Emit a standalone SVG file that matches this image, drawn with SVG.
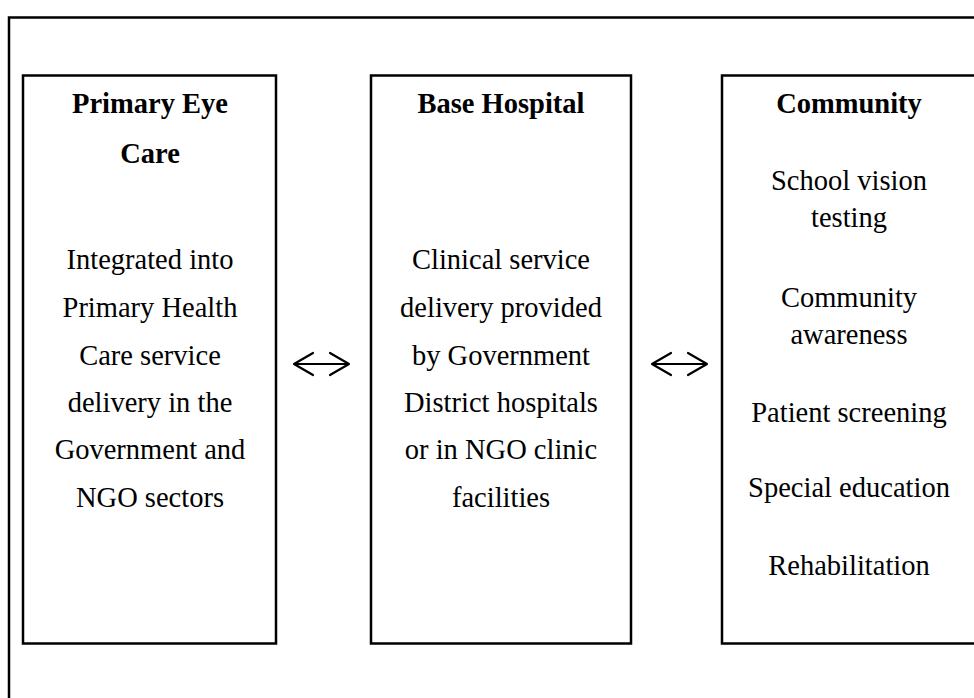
<svg xmlns="http://www.w3.org/2000/svg" width="974" height="698" viewBox="0 0 974 698">
<style>
.frame{fill:none;stroke:#000;stroke-width:2.5}
.box{fill:#fff;stroke:#000;stroke-width:2.5}
text{font-family:"Liberation Serif","Times New Roman",serif;font-size:28.5px;fill:#000;text-anchor:middle}
.h{font-weight:bold}
.arr{fill:none;stroke:#000;stroke-width:2.2;stroke-linecap:round;stroke-linejoin:round}
</style>
<rect width="974" height="698" fill="#fff"/>
<rect class="frame" x="9" y="17.5" width="980" height="700"/>
<g id="primary-eye-care">
<rect class="box" x="23" y="75.5" width="253" height="568"/>
<text class="h" x="150" y="113">Primary Eye</text>
<text class="h" x="150" y="163">Care</text>
<text x="150" y="269">Integrated into</text>
<text x="150" y="317">Primary Health</text>
<text x="150" y="365">Care service</text>
<text x="150" y="412">delivery in the</text>
<text x="150" y="459">Government and</text>
<text x="150" y="507">NGO sectors</text>
</g>
<g id="base-hospital">
<rect class="box" x="371" y="75.5" width="260" height="568"/>
<text class="h" x="501" y="113">Base Hospital</text>
<text x="501" y="269">Clinical service</text>
<text x="501" y="317">delivery provided</text>
<text x="501" y="365">by Government</text>
<text x="501" y="412">District hospitals</text>
<text x="501" y="459">or in NGO clinic</text>
<text x="501" y="507">facilities</text>
</g>
<g id="community">
<rect class="box" x="722" y="75.5" width="270" height="568"/>
<text class="h" x="849" y="113">Community</text>
<text x="849" y="190">School vision</text>
<text x="849" y="227">testing</text>
<text x="849" y="307">Community</text>
<text x="849" y="344">awareness</text>
<text x="849" y="422">Patient screening</text>
<text x="849" y="497">Special education</text>
<text x="849" y="575">Rehabilitation</text>
</g>
<g id="connectors">
<path class="arr" d="M294 364H349M313 353L294 364L313 375M330 353L349 364L330 375"/>
<path class="arr" d="M652 364H707M671 353L652 364L671 375M688 353L707 364L688 375"/>
</g>
</svg>
